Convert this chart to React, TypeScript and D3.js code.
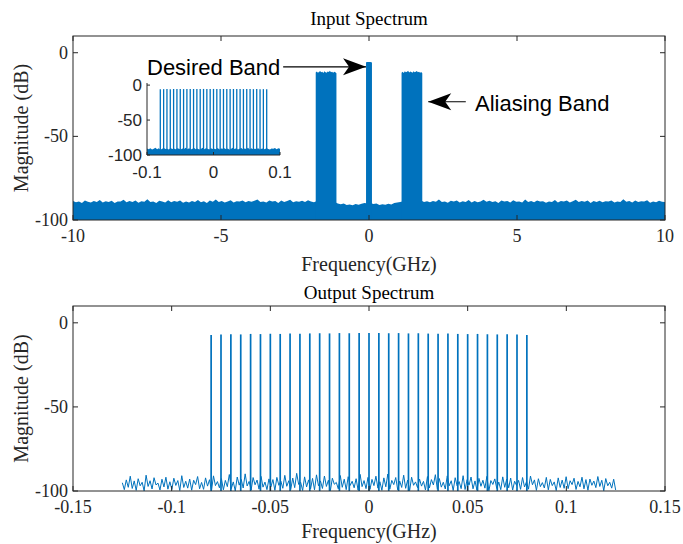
import * as d3 from "d3";

const W = 683;
const H = 544;
const BLUE = "#0072BD";
const AXIS = "#262626";
const SERIF = '"Liberation Serif", "Times New Roman", serif';
const SANS = '"Liberation Sans", Arial, sans-serif';

// ---- input spectrum (top panel) ----
// upper envelope of the noise floor, evenly spaced from -10 to 10 GHz
const inputFloor = [
  -88.6, -89.4, -88.9, -89.8, -88.3, -89.1, -89.6, -88.7, -89.2, -88.1, -89.5, -88.8, -89.3, -88.5, -89.9, -88.9, -89.0, -87.9, -89.4, -88.6,
  -89.2, -88.4, -89.7, -88.8, -89.1, -87.6, -89.3, -88.9, -89.8, -88.5, -89.0, -89.6, -88.2, -89.4, -88.7, -89.1, -88.3, -89.7, -88.9, -89.5,
  -88.6, -89.2, -88.0, -89.4, -88.8, -89.9, -88.4, -89.1, -87.8, -89.3, -88.7, -89.6, -88.9, -88.2, -89.5, -88.8, -89.0, -88.3, -89.4, -88.6,
  -89.1, -88.5, -87.7, -89.2, -88.9, -89.6, -88.4, -89.0, -88.7, -89.8, -88.3, -89.2, -88.6, -87.9, -89.4, -88.8, -89.1, -88.5, -89.3, -88.2,
  -88.9, -89.4, -88.6, -89.2, -88.8, -89.5, -89.0, -89.7, -89.3, -90.2, -90.6, -90.1, -91.0, -90.7, -91.2, -90.4, -90.9, -90.3, -89.8, -90.1,
  -89.9, -90.5, -90.2, -91.1, -90.6, -90.9, -90.3, -90.8, -89.9, -89.6, -89.2, -88.8, -89.5, -88.7, -89.3, -88.9, -89.6, -88.4, -89.2, -88.8,
  -89.4, -88.6, -89.1, -87.8, -89.3, -88.9, -89.7, -88.5, -89.0, -88.3, -89.5, -88.8, -89.2, -88.1, -89.6, -88.7, -89.4, -88.9, -87.9, -89.1,
  -88.5, -89.3, -88.8, -89.8, -88.4, -89.0, -88.7, -89.5, -88.2, -89.1, -88.9, -89.6, -87.7, -89.2, -88.6, -89.4, -88.3, -89.0, -88.8, -89.7,
  -88.9, -89.2, -88.1, -89.5, -88.7, -89.0, -88.4, -89.6, -88.8, -87.9, -89.3, -88.6, -89.1, -88.4, -89.8, -88.7, -89.2, -88.5, -89.4, -88.8,
  -89.0, -88.3, -89.5, -88.9, -89.2, -87.6, -89.1, -88.7, -89.6, -88.4, -89.3, -88.8, -89.0, -88.2, -89.7, -88.9, -89.4, -88.5, -89.1, -89.3,
];
const inputSpan = [-10, 10];

const leftBandTop = [
  -11.8, -11.2, -12.0, -11.5, -10.9, -11.7, -11.3, -12.1, -11.0, -11.6,
  -11.9, -11.2, -11.5, -10.8, -11.7, -11.4, -12.0, -11.3, -11.6, -12.3,
];
const leftBandSpan = [-1.8, -1.1];
const rightBandTop = [
  -11.9, -11.4, -12.1, -11.0, -11.6, -11.3, -10.7, -11.8, -11.2, -11.5,
  -12.0, -11.1, -11.7, -11.4, -10.9, -11.6, -11.3, -11.9, -11.5, -12.2,
];
const rightBandSpan = [1.1, 1.8];
const desiredBandTop = [-5.7, -5.5, -5.6, -5.6, -5.8];
const desiredBandSpan = [-0.1, 0.1];

// ---- tones (inset and output) ----
const toneFreqs = [
  -0.08, -0.075, -0.07, -0.065, -0.06, -0.055, -0.05, -0.045, -0.04, -0.035, -0.03,
  -0.025, -0.02, -0.015, -0.01, -0.005, 0, 0.005, 0.01, 0.015, 0.02, 0.025,
  0.03, 0.035, 0.04, 0.045, 0.05, 0.055, 0.06, 0.065, 0.07, 0.075, 0.08,
];
const inputToneLevels = [
  -5.9, -5.8, -5.7, -5.8, -5.6, -5.7, -5.6, -5.7, -5.5, -5.6, -5.6,
  -5.5, -5.6, -5.5, -5.6, -5.5, -5.5, -5.6, -5.5, -5.6, -5.5, -5.6,
  -5.6, -5.7, -5.6, -5.7, -5.6, -5.7, -5.8, -5.7, -5.8, -5.8, -5.9,
];
const insetFloor = [
  -90.8, -91.6, -90.2, -92.1, -91.0, -89.7, -91.8, -90.5, -92.4, -91.2, -90.0, -91.5, -90.9, -92.0, -89.9, -91.3, -90.6, -91.9, -90.3, -91.1,
  -92.2, -90.7, -91.4, -89.8, -91.7, -90.4, -92.3, -91.0, -90.1, -91.6, -90.8, -92.0, -91.3, -89.6, -91.8, -90.5, -91.2, -92.1, -90.2, -91.5,
  -90.9, -91.7, -89.9, -92.2, -90.6, -91.1, -90.3, -91.9, -90.7, -92.4, -91.0, -89.8, -91.4, -90.5, -92.0, -91.2, -90.1, -91.6, -90.8, -91.3,
  -89.7, -92.1, -90.4, -91.8, -90.9, -91.5, -90.2, -92.3, -91.1, -90.6, -91.9, -90.0, -91.4, -92.0, -90.7, -91.2, -89.9, -91.7, -90.5, -91.0,
];
const insetSpan = [-0.1, 0.1];

const outputToneLevels = [
  -7.2, -7.0, -6.8, -6.9, -6.6, -6.7, -6.5, -6.6, -6.4, -6.5, -6.3,
  -6.2, -6.3, -6.1, -6.2, -6.1, -6.0, -6.1, -6.2, -6.1, -6.3, -6.2,
  -6.4, -6.5, -6.4, -6.6, -6.7, -6.6, -6.8, -6.9, -6.8, -7.0, -7.2,
];
const outputNoise = [
  -95.1, -99.2, -93.4, -97.8, -91.2, -98.5, -94.0, -99.6, -92.7, -96.9, -94.8, -99.9, -90.6, -97.3, -93.9, -98.8, -92.1, -96.4, -95.3, -99.4, -93.0, -97.6, -91.8, -98.9, -94.5,
  -99.1, -92.4, -96.7, -93.8, -99.7, -90.9, -97.9, -94.2, -98.3, -92.9, -99.5, -93.6, -96.2, -91.4, -98.7, -94.9, -99.0, -92.2, -97.1, -93.3, -99.8, -91.0, -96.8, -94.4, -98.1,
  -92.6, -99.3, -93.7, -97.4, -90.2, -98.6, -94.6, -99.9, -91.7, -96.5, -93.1, -98.2, -89.8, -97.0, -94.3, -99.4, -92.0, -96.3, -93.5, -98.9, -91.3, -97.7, -94.7, -99.2, -92.8,
  -97.5, -93.2, -99.6, -91.9, -96.6, -94.1, -98.4, -90.7, -97.2, -93.9, -99.1, -92.3, -98.0, -89.5, -96.1, -94.8, -99.7, -91.6, -97.6, -93.4, -98.8, -92.5, -99.3, -90.4, -96.9,
  -94.0, -98.5, -91.1, -97.3, -93.6, -99.8, -92.4, -96.0, -94.9, -98.7, -90.8, -97.8, -93.0, -99.2, -91.5, -96.7, -94.2, -98.1, -92.7, -99.5, -90.1, -97.4, -93.8, -98.6, -91.9,
  -99.0, -93.1, -96.8, -91.2, -98.3, -94.5, -99.6, -92.2, -97.5, -89.9, -98.9, -93.7, -96.2, -92.0, -99.3, -94.1, -97.9, -90.6, -98.4, -93.5, -99.8, -91.8, -96.6, -94.6, -98.0,
  -92.9, -97.1, -94.3, -99.4, -91.4, -98.2, -93.2, -96.4, -90.3, -99.0, -92.6, -97.7, -94.8, -98.8, -91.0, -96.9, -93.9, -99.7, -92.1, -97.0, -94.4, -98.6, -90.9, -99.1, -93.3,
  -96.5, -91.7, -98.7, -94.0, -99.5, -92.5, -97.2, -93.6, -98.3, -91.3, -99.9, -93.8, -96.1, -92.8, -98.5, -94.7, -99.2, -91.6, -97.8, -93.0, -98.1, -92.3, -99.4, -94.2, -96.7,
  -93.7, -99.0, -92.0, -97.6, -94.5, -98.9, -91.1, -96.3, -93.4, -99.6, -92.7, -97.4, -95.0, -98.2, -91.9, -99.3, -93.1, -96.8, -94.6, -99.7, -92.2, -97.9, -93.5, -98.4, -91.5,
  -98.6, -93.9, -96.2, -92.4, -99.1, -94.3, -97.5, -91.8, -98.7, -93.2, -99.5, -92.9, -96.6, -94.1, -98.0, -91.4, -97.3, -93.6, -99.8, -92.6, -96.9, -94.8, -98.3, -93.0, -99.4,
];
const outputSpan = [-0.125, 0.125];

// ---- axes ----
const topXTicks = [-10, -5, 0, 5, 10];
const bottomXTicks = [-0.15, -0.1, -0.05, 0, 0.05, 0.1, 0.15];
const yTicks = [0, -50, -100];
const insetXTicks = [-0.1, 0, 0.1];

type Pt = { f: number; db: number };

// spread a list of levels evenly across a frequency span
function spread(vals: number[], span: number[]): Pt[] {
  const [lo, hi] = span;
  return vals.map((db, i) => ({ f: lo + ((hi - lo) * i) / (vals.length - 1), db }));
}

function Axes({ x, y, xTicks, title, xLabel, titleY, xLabelY }: any) {
  const [x0, x1] = x.range();
  const [y0, y1] = y.range(); // y0 bottom, y1 top
  const tl = 5;
  return (
    <g>
      <rect x={x0} y={y1} width={x1 - x0} height={y0 - y1} fill="none" stroke={AXIS} strokeWidth={1} />
      {xTicks.map((t: number) => (
        <g key={"x" + t}>
          <line x1={x(t)} x2={x(t)} y1={y0} y2={y0 - tl} stroke={AXIS} />
          <line x1={x(t)} x2={x(t)} y1={y1} y2={y1 + tl} stroke={AXIS} />
          <text x={x(t)} y={y0 + 22} textAnchor="middle" fontFamily={SERIF} fontSize={18} fill={AXIS}>
            {String(t)}
          </text>
        </g>
      ))}
      {yTicks.map((t) => (
        <g key={"y" + t}>
          <line x1={x0} x2={x0 + tl} y1={y(t)} y2={y(t)} stroke={AXIS} />
          <line x1={x1} x2={x1 - tl} y1={y(t)} y2={y(t)} stroke={AXIS} />
          <text x={x0 - 5} y={y(t) + 6} textAnchor="end" fontFamily={SERIF} fontSize={18} fill={AXIS}>
            {String(t)}
          </text>
        </g>
      ))}
      <text x={(x0 + x1) / 2} y={titleY} textAnchor="middle" fontFamily={SERIF} fontSize={19} fill="#000">
        {title}
      </text>
      <text x={(x0 + x1) / 2} y={xLabelY} textAnchor="middle" fontFamily={SERIF} fontSize={20} fill={AXIS}>
        {xLabel}
      </text>
      <text
        transform={`translate(28,${(y0 + y1) / 2}) rotate(-90)`}
        textAnchor="middle"
        fontFamily={SERIF}
        fontSize={20}
        fill={AXIS}
      >
        Magnitude (dB)
      </text>
    </g>
  );
}

function Arrow({ x1, y1, x2, y2 }: any) {
  // MATLAB style "vback2" head pointing at (x2, y2)
  const ang = (Math.atan2(y2 - y1, x2 - x1) * 180) / Math.PI;
  return (
    <g>
      <line x1={x1} y1={y1} x2={x2} y2={y2} stroke="#000" strokeWidth={1.2} />
      <path d="M0,0 L-23,-8.5 L-17,0 L-23,8.5 Z" fill="#000" transform={`translate(${x2},${y2}) rotate(${ang})`} />
    </g>
  );
}

export default function App() {
  const xTop = d3.scaleLinear().domain([-10, 10]).range([73, 665]);
  const yTop = d3.scaleLinear().domain([-100, 10]).range([220, 36]);
  const xBot = d3.scaleLinear().domain([-0.15, 0.15]).range([73, 665]);
  const yBot = d3.scaleLinear().domain([-100, 10]).range([491, 306]);
  const xIn = d3.scaleLinear().domain([-0.1, 0.1]).range([147, 280]);
  const yIn = d3.scaleLinear().domain([-100, 3]).range([155, 83]);

  const areaTop = d3
    .area<Pt>()
    .x((d) => xTop(d.f))
    .y0(yTop(-100))
    .y1((d) => yTop(d.db));
  const areaIn = d3
    .area<Pt>()
    .x((d) => xIn(d.f))
    .y0(yIn(-100))
    .y1((d) => yIn(d.db));
  const lineBot = d3
    .line<Pt>()
    .x((d) => xBot(d.f))
    .y((d) => yBot(d.db));

  const [ix0, ix1] = xIn.range();
  const [iy0, iy1] = yIn.range();

  return (
    <svg width={W} height={H} style={{ position: "absolute", left: 0, top: 0, background: "#fff" }}>
      <defs>
        <clipPath id="clipTop">
          <rect x={73} y={36} width={592} height={184} />
        </clipPath>
        <clipPath id="clipBot">
          <rect x={73} y={306} width={592} height={185} />
        </clipPath>
      </defs>

      {/* input spectrum */}
      <g clipPath="url(#clipTop)" fill={BLUE}>
        <path d={areaTop(spread(inputFloor, inputSpan)) ?? ""} />
        <path d={areaTop(spread(leftBandTop, leftBandSpan)) ?? ""} />
        <path d={areaTop(spread(rightBandTop, rightBandSpan)) ?? ""} />
        <path d={areaTop(spread(desiredBandTop, desiredBandSpan)) ?? ""} />
      </g>
      <Axes x={xTop} y={yTop} xTicks={topXTicks} title="Input Spectrum" xLabel="Frequency(GHz)" titleY={25} xLabelY={271} />

      {/* inset: zoom on desired band */}
      <g>
        <path d={areaIn(spread(insetFloor, insetSpan)) ?? ""} fill={BLUE} />
        {toneFreqs.map((f, i) => (
          <line key={f} x1={xIn(f)} x2={xIn(f)} y1={yIn(-100)} y2={yIn(inputToneLevels[i])} stroke={BLUE} strokeWidth={1.3} />
        ))}
        <line x1={ix0} x2={ix0} y1={iy1} y2={iy0} stroke={AXIS} />
        <line x1={ix0} x2={ix1} y1={iy0} y2={iy0} stroke={AXIS} />
        {insetXTicks.map((t) => (
          <g key={"ix" + t}>
            <line x1={xIn(t)} x2={xIn(t)} y1={iy0} y2={iy0 - 3} stroke={AXIS} />
            <text x={xIn(t)} y={iy0 + 23} textAnchor="middle" fontFamily={SANS} fontSize={17} fill={AXIS}>
              {String(t)}
            </text>
          </g>
        ))}
        {yTicks.map((t) => (
          <g key={"iy" + t}>
            <line x1={ix0} x2={ix0 + 3} y1={yIn(t)} y2={yIn(t)} stroke={AXIS} />
            <text x={ix0 - 5} y={yIn(t) + 6} textAnchor="end" fontFamily={SANS} fontSize={17} fill={AXIS}>
              {String(t)}
            </text>
          </g>
        ))}
      </g>

      {/* annotations */}
      <text x={xTop(-7.5)} y={yTop(-13.5)} fontFamily={SANS} fontSize={22} fill="#000">
        Desired Band
      </text>
      <Arrow x1={xTop(-2.9)} y1={yTop(-8.4)} x2={xTop(-0.1)} y2={yTop(-8.4)} />
      <text x={xTop(3.58)} y={yTop(-35)} fontFamily={SANS} fontSize={22} fill="#000">
        Aliasing Band
      </text>
      <Arrow x1={xTop(3.27)} y1={yTop(-29.3)} x2={xTop(2.0)} y2={yTop(-29.3)} />

      {/* output spectrum */}
      <g clipPath="url(#clipBot)">
        <path d={lineBot(spread(outputNoise, outputSpan)) ?? ""} fill="none" stroke={BLUE} strokeWidth={1} />
        {toneFreqs.map((f, i) => (
          <line key={f} x1={xBot(f)} x2={xBot(f)} y1={yBot(-100)} y2={yBot(outputToneLevels[i])} stroke={BLUE} strokeWidth={1.7} />
        ))}
      </g>
      <Axes x={xBot} y={yBot} xTicks={bottomXTicks} title="Output Spectrum" xLabel="Frequency(GHz)" titleY={299} xLabelY={538} />
    </svg>
  );
}
